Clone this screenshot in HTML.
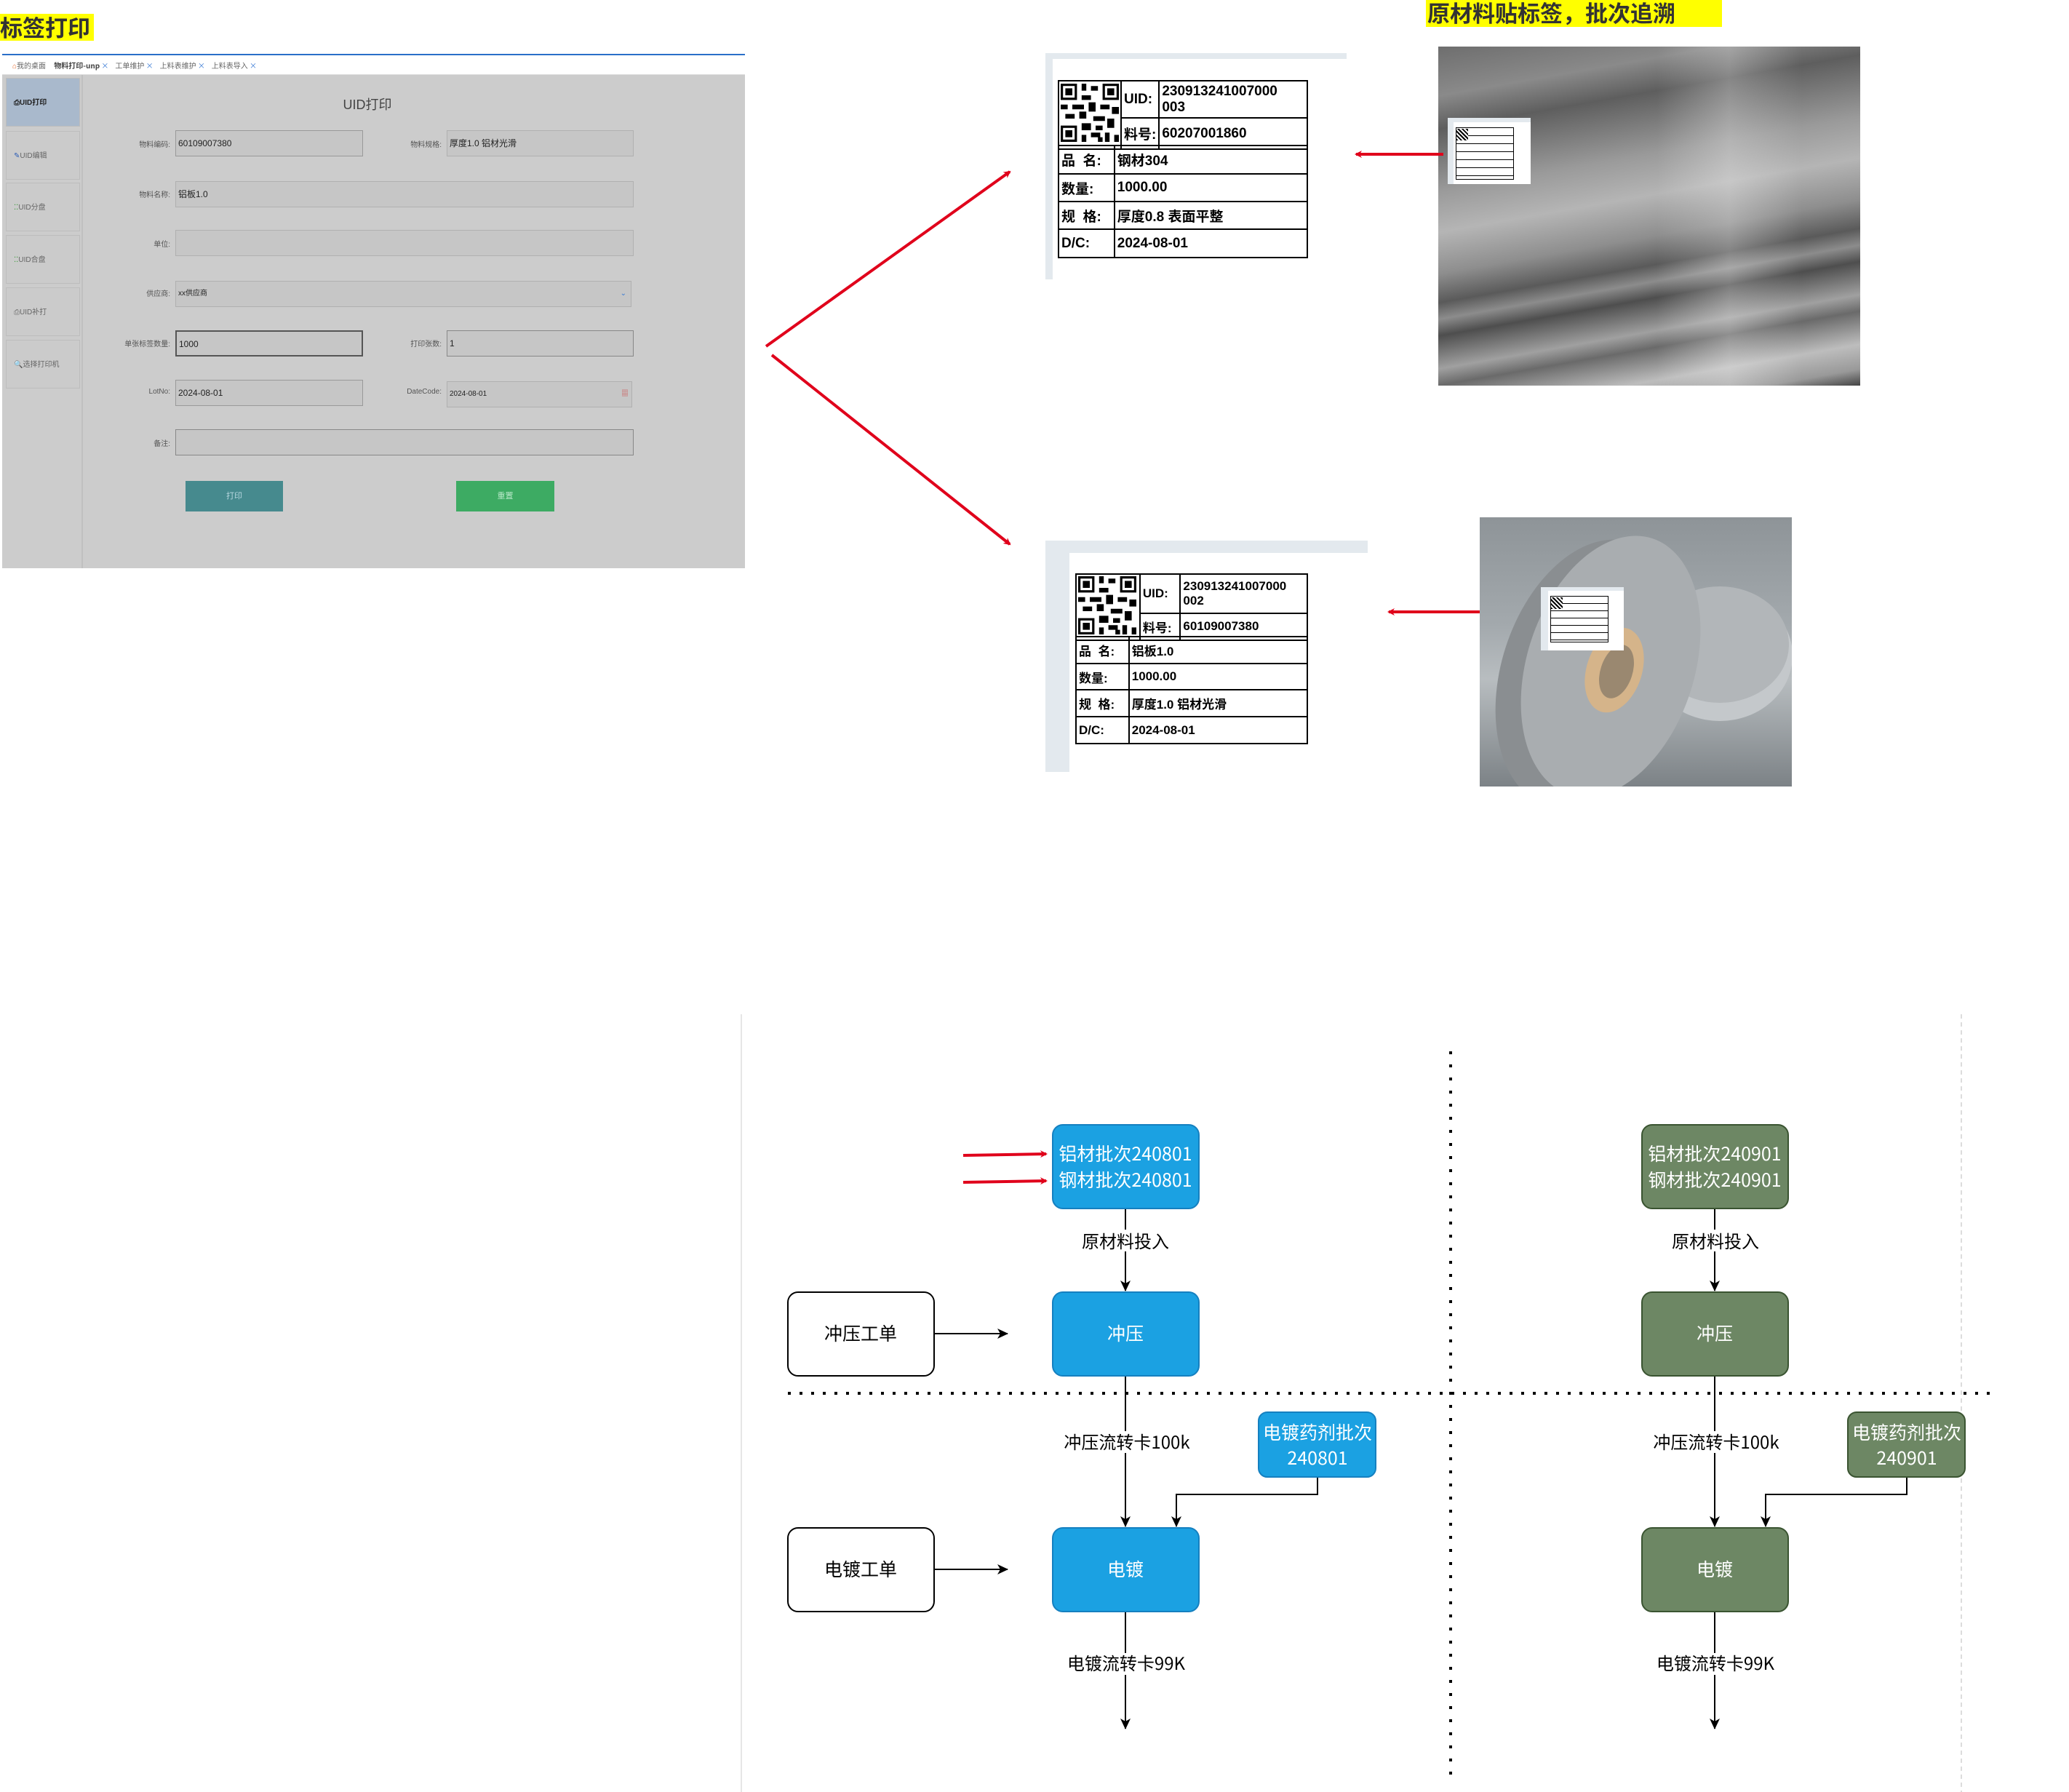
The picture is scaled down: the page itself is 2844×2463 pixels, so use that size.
<!DOCTYPE html>
<html><head><meta charset="utf-8">
<style>
*{margin:0;padding:0;box-sizing:border-box}
body{width:2844px;height:2463px;background:#fff;position:relative;overflow:hidden;font-family:"Liberation Sans","Noto Sans CJK SC",sans-serif}
.a{position:absolute}
.lbl{position:absolute;font-size:10px;color:#555;text-align:right;width:120px}
.inp{position:absolute;border:1px solid #b0b0b0;background:#c6c6c6;font-size:12px;color:#222;padding-left:3px;line-height:34px;height:36px}
.side{position:absolute;left:8px;width:102px;height:67px;border:1px solid #bdbdbd;background:#cbcbcb;font-size:10px;color:#666;line-height:67px;padding-left:10px}
table.t{position:absolute;border-collapse:collapse;font-family:"Liberation Sans","Noto Sans CJK SC",sans-serif;font-weight:bold;color:#000}
table.t td{border:2px solid #000;padding:0 3px;white-space:nowrap}
</style></head><body>

<div class="a" style="left:0;top:19px;width:129px;height:37px;background:#ffff00"></div>
<div class="a" style="left:0;top:15px;font-size:31px;font-weight:bold;color:#333;line-height:44px;font-family:'Noto Sans CJK SC',sans-serif">标签打印</div>

<div class="a" style="left:1960px;top:0;width:407px;height:37px;background:#ffff00"></div>
<div class="a" style="left:1962px;top:-5px;font-size:31px;font-weight:bold;color:#333;line-height:44px;font-family:'Noto Sans CJK SC',sans-serif">原材料贴标签，批次追溯</div>

<!-- screenshot -->
<div class="a" style="left:3px;top:74px;width:1021px;height:2px;background:#2a6fc9"></div>
<div class="a" style="left:3px;top:76px;width:1021px;height:27px;background:#fff;border-bottom:1px solid #ddd;font-size:10px;color:#666;line-height:27px;padding-left:14px;white-space:nowrap;font-family:'Noto Sans CJK SC',sans-serif">
<span style="color:#e86a2a">⌂</span>我的桌面 &nbsp;&nbsp;&nbsp; <b style="color:#444">物料打印-unp</b> <span style="color:#3a7bd5">×</span> &nbsp;&nbsp; 工单维护 <span style="color:#3a7bd5">×</span> &nbsp;&nbsp; 上料表维护 <span style="color:#3a7bd5">×</span> &nbsp;&nbsp; 上料表导入 <span style="color:#3a7bd5">×</span></div>
<div class="a" style="left:3px;top:103px;width:1021px;height:678px;background:#cccccc"></div>
<div class="a" style="left:112px;top:103px;width:2px;height:678px;background:#c0c0c0"></div>
<div class="side" style="top:107px;background:#a9b9cc;color:#222;font-weight:bold">⎙UID打印</div>
<div class="side" style="top:180px"><span style="color:#2b5db5">✎</span>UID编辑</div>
<div class="side" style="top:251px"><span style="color:#3a9a3a">⁚⁚</span>UID分盘</div>
<div class="side" style="top:323px"><span style="color:#3a9a3a">⁚⁚</span>UID合盘</div>
<div class="side" style="top:395px">⎙UID补打</div>
<div class="side" style="top:467px">🔍选择打印机</div>
<div class="a" style="left:400px;top:130px;width:210px;text-align:center;font-size:18px;color:#444">UID打印</div>

<div class="lbl" style="left:114px;top:190px">物料编码:</div>
<div class="inp" style="left:241px;top:179px;width:258px;border-color:#999">60109007380</div>
<div class="lbl" style="left:487px;top:190px">物料规格:</div>
<div class="inp" style="left:614px;top:179px;width:257px">厚度1.0 铝材光滑</div>
<div class="lbl" style="left:114px;top:259px">物料名称:</div>
<div class="inp" style="left:241px;top:249px;width:630px">铝板1.0</div>
<div class="lbl" style="left:114px;top:327px">单位:</div>
<div class="inp" style="left:241px;top:316px;width:630px"></div>
<div class="lbl" style="left:114px;top:395px">供应商:</div>
<div class="inp" style="left:241px;top:386px;width:627px;font-size:10px">xx供应商<span style="position:absolute;right:6px;color:#3a7bd5">⌄</span></div>
<div class="lbl" style="left:114px;top:464px">单张标签数量:</div>
<div class="inp" style="left:241px;top:454px;width:258px;border:2px solid #555">1000</div>
<div class="lbl" style="left:487px;top:464px">打印张数:</div>
<div class="inp" style="left:614px;top:454px;width:257px;border-color:#888">1</div>
<div class="lbl" style="left:114px;top:533px">LotNo:</div>
<div class="inp" style="left:241px;top:522px;width:258px;border-color:#999">2024-08-01</div>
<div class="lbl" style="left:487px;top:533px">DateCode:</div>
<div class="inp" style="left:614px;top:524px;width:255px;font-size:10px">2024-08-01<span style="position:absolute;right:4px;color:#c66">▦</span></div>
<div class="lbl" style="left:114px;top:601px">备注:</div>
<div class="inp" style="left:241px;top:590px;width:630px;border-color:#888"></div>
<div class="a" style="left:255px;top:661px;width:134px;height:42px;background:#468a8e;color:#b8d8e0;font-size:11px;text-align:center;line-height:42px">打印</div>
<div class="a" style="left:627px;top:661px;width:135px;height:42px;background:#3dab63;color:#b8e8c8;font-size:11px;text-align:center;line-height:42px">重置</div>

<!-- label panel 1 -->
<div class="a" style="left:1437px;top:73px;width:414px;height:8px;background:#e3e9ee"></div>
<div class="a" style="left:1437px;top:73px;width:10px;height:311px;background:#e3e9ee"></div>
<table class="t" style="left:1454px;top:110px;width:344px;font-size:19px">
<colgroup><col style="width:77px"><col style="width:47px"><col style="width:220px"></colgroup>
<tr style="height:47px"><td rowspan="2" style="padding:2px"><svg width="80" height="82" viewBox="0 0 25 25"><rect x="0" y="0" width="7" height="7" fill="#000"/><rect x="1" y="1" width="5" height="5" fill="#fff"/><rect x="2" y="2" width="3" height="3" fill="#000"/><rect x="18" y="0" width="7" height="7" fill="#000"/><rect x="19" y="1" width="5" height="5" fill="#fff"/><rect x="20" y="2" width="3" height="3" fill="#000"/><rect x="0" y="18" width="7" height="7" fill="#000"/><rect x="1" y="19" width="5" height="5" fill="#fff"/><rect x="2" y="20" width="3" height="3" fill="#000"/><path d="M9 0h2v3h-2zM13 1h3v2h-3zM9 5h4v2h-4zM0 9h3v2h-3zM5 9h5v2h-5zM12 8h3v4h-3zM17 9h4v2h-4zM22 10h3v3h-3zM2 13h4v2h-4zM8 12h3v3h-3zM14 14h5v2h-5zM20 15h3v4h-3zM9 17h4v3h-4zM15 18h3v2h-3zM9 22h2v3h-2zM13 21h4v2h-4zM19 21h2v4h-2zM23 22h2v3h-2zM16 23h2v2h-2z" fill="#000"/></svg></td><td>UID:</td><td style="line-height:22px">230913241007000<br>003</td></tr>
<tr style="height:39px"><td>料号:</td><td>60207001860</td></tr>
</table>
<table class="t" style="left:1454px;top:199px;width:344px;font-size:19px">
<colgroup><col style="width:77px"><col style="width:267px"></colgroup>
<tr style="height:39px"><td>品&nbsp; 名:</td><td>钢材304</td></tr>
<tr style="height:38px"><td>数量:</td><td>1000.00</td></tr>
<tr style="height:38px"><td>规&nbsp; 格:</td><td>厚度0.8 表面平整</td></tr>
<tr style="height:39px"><td>D/C:</td><td>2024-08-01</td></tr>
</table>

<!-- label panel 2 -->
<div class="a" style="left:1437px;top:743px;width:443px;height:17px;background:#e3e9ee"></div>
<div class="a" style="left:1437px;top:743px;width:33px;height:318px;background:#e3e9ee"></div>
<table class="t" style="left:1478px;top:788px;width:320px;font-size:17px">
<colgroup><col style="width:88px"><col style="width:56px"><col style="width:176px"></colgroup>
<tr style="height:52px"><td rowspan="2" style="padding:2px"><svg width="80" height="80" viewBox="0 0 25 25"><rect x="0" y="0" width="7" height="7" fill="#000"/><rect x="1" y="1" width="5" height="5" fill="#fff"/><rect x="2" y="2" width="3" height="3" fill="#000"/><rect x="18" y="0" width="7" height="7" fill="#000"/><rect x="19" y="1" width="5" height="5" fill="#fff"/><rect x="20" y="2" width="3" height="3" fill="#000"/><rect x="0" y="18" width="7" height="7" fill="#000"/><rect x="1" y="19" width="5" height="5" fill="#fff"/><rect x="2" y="20" width="3" height="3" fill="#000"/><path d="M9 0h2v3h-2zM13 1h3v2h-3zM9 5h4v2h-4zM0 9h3v2h-3zM5 9h5v2h-5zM12 8h3v4h-3zM17 9h4v2h-4zM22 10h3v3h-3zM2 13h4v2h-4zM8 12h3v3h-3zM14 14h5v2h-5zM20 15h3v4h-3zM9 17h4v3h-4zM15 18h3v2h-3zM9 22h2v3h-2zM13 21h4v2h-4zM19 21h2v4h-2zM23 22h2v3h-2zM16 23h2v2h-2z" fill="#000"/></svg></td><td>UID:</td><td style="line-height:20px">230913241007000<br>002</td></tr>
<tr style="height:36px"><td>料号:</td><td>60109007380</td></tr>
</table>
<table class="t" style="left:1478px;top:874px;width:320px;font-size:17px">
<colgroup><col style="width:73px"><col style="width:247px"></colgroup>
<tr style="height:37px"><td>品&nbsp; 名:</td><td>铝板1.0</td></tr>
<tr style="height:36px"><td>数量:</td><td>1000.00</td></tr>
<tr style="height:37px"><td>规&nbsp; 格:</td><td>厚度1.0 铝材光滑</td></tr>
<tr style="height:37px"><td>D/C:</td><td>2024-08-01</td></tr>
</table>

<!-- photo 1 -->
<div class="a" style="left:1977px;top:64px;width:580px;height:466px;overflow:hidden;background:linear-gradient(170deg,#6e6e6e 0%,#8a8a8a 12%,#5e5e5e 20%,#9a9a9a 35%,#b5b5b5 45%,#8e8e8e 55%,#5a5a5a 62%,#8c8c8c 66%,#4e4e4e 70%,#a0a0a0 78%,#6a6a6a 82%,#bdbdbd 90%,#999 96%,#444 100%)">
<div class="a" style="left:300px;top:0;width:200px;height:466px;background:linear-gradient(90deg,rgba(255,255,255,0),rgba(255,255,255,.25),rgba(255,255,255,0))"></div>
<div class="a" style="left:13px;top:98px;width:114px;height:91px;background:#fff;border-left:8px solid #e3e9ee;border-top:6px solid #e3e9ee">
<div class="a" style="left:3px;top:7px;width:80px;height:72px;border:1px solid #000;background:repeating-linear-gradient(180deg,#fff 0,#fff 10px,#000 10px,#000 11px)"></div>
<div class="a" style="left:4px;top:9px;width:16px;height:16px;background:repeating-linear-gradient(45deg,#000 0 2px,#fff 2px 4px)"></div>
</div>
</div>

<!-- photo 2 -->
<div class="a" style="left:2034px;top:711px;width:429px;height:370px;overflow:hidden;background:linear-gradient(180deg,#8e9498 0%,#a3a9ad 40%,#b8bdc0 60%,#7c8286 100%)">
<svg class="a" style="left:0;top:0" width="429" height="370">
<ellipse cx="330" cy="190" rx="100" ry="90" fill="#c4c8cb"/>
<ellipse cx="330" cy="175" rx="95" ry="80" fill="#b2b6b9"/>
<ellipse cx="150" cy="215" rx="120" ry="190" fill="#8a8e91" transform="rotate(18 150 215)"/>
<ellipse cx="180" cy="205" rx="115" ry="185" fill="#a9adb0" transform="rotate(18 180 205)"/>
<ellipse cx="185" cy="210" rx="38" ry="60" fill="#d5b48a" transform="rotate(18 185 210)"/>
<ellipse cx="188" cy="212" rx="22" ry="38" fill="#9a8870" transform="rotate(18 188 212)"/>
</svg>
<div class="a" style="left:84px;top:96px;width:114px;height:87px;background:#fff;border-left:10px solid #e3e9ee;border-top:5px solid #e3e9ee">
<div class="a" style="left:3px;top:7px;width:80px;height:64px;border:1px solid #000;background:repeating-linear-gradient(180deg,#fff 0,#fff 9px,#000 9px,#000 10px)"></div>
<div class="a" style="left:4px;top:9px;width:16px;height:16px;background:repeating-linear-gradient(45deg,#000 0 2px,#fff 2px 4px)"></div>
</div>
</div>

<svg class="a" style="left:0;top:0" width="2844" height="2463">
<defs>
<marker id="rh" markerWidth="10" markerHeight="10" refX="8" refY="5" orient="auto" markerUnits="userSpaceOnUse"><path d="M0,0 L10,5 L0,10 L3,5z" fill="#e0001b"/></marker>
<marker id="bh" markerWidth="16" markerHeight="16" refX="14" refY="8" orient="auto" markerUnits="userSpaceOnUse"><path d="M0,1 L15,8 L0,15 L4,8z" fill="#000"/></marker>
</defs>
<g stroke="#e0001b" stroke-width="4" fill="none">
<line x1="1053" y1="476" x2="1388" y2="236" marker-end="url(#rh)"/>
<line x1="1061" y1="488" x2="1388" y2="748" marker-end="url(#rh)"/>
<line x1="1984" y1="212" x2="1864" y2="212" marker-end="url(#rh)"/>
<line x1="2034" y1="841" x2="1909" y2="841" marker-end="url(#rh)"/>
<line x1="1324" y1="1588" x2="1438" y2="1586" marker-end="url(#rh)"/>
<line x1="1324" y1="1625" x2="1438" y2="1623" marker-end="url(#rh)"/>
</g>
<line x1="1019" y1="1394" x2="1019" y2="2463" stroke="#e6e6e6" stroke-width="2"/>
<line x1="2696" y1="1394" x2="2696" y2="2463" stroke="#ddd" stroke-width="2" stroke-dasharray="6 5"/>
<line x1="1994" y1="1445" x2="1994" y2="2447" stroke="#000" stroke-width="4" stroke-dasharray="4 14"/>
<line x1="1083" y1="1915" x2="2740" y2="1915" stroke="#000" stroke-width="4" stroke-dasharray="4 12"/>
<g stroke="#000" stroke-width="2" fill="none">
<line x1="1547" y1="1661" x2="1547" y2="1774" marker-end="url(#bh)"/>
<line x1="1547" y1="1891" x2="1547" y2="2098" marker-end="url(#bh)"/>
<line x1="1547" y1="2215" x2="1547" y2="2376" marker-end="url(#bh)"/>
<polyline points="1811,2030 1811,2054 1617,2054 1617,2098" marker-end="url(#bh)"/>
<line x1="1284" y1="1833" x2="1385" y2="1833" marker-end="url(#bh)"/>
<line x1="1284" y1="2157" x2="1385" y2="2157" marker-end="url(#bh)"/>
<line x1="2357" y1="1661" x2="2357" y2="1774" marker-end="url(#bh)"/>
<line x1="2357" y1="1891" x2="2357" y2="2098" marker-end="url(#bh)"/>
<line x1="2357" y1="2215" x2="2357" y2="2376" marker-end="url(#bh)"/>
<polyline points="2621,2030 2621,2054 2427,2054 2427,2098" marker-end="url(#bh)"/>
</g>
<g font-family="Noto Sans CJK SC, sans-serif" font-size="25">
<rect x="1447" y="1546" width="201" height="115" rx="14" fill="#1ba1e2" stroke="#1580c0" stroke-width="2"/>
<rect x="1447" y="1776" width="201" height="115" rx="14" fill="#1ba1e2" stroke="#1580c0" stroke-width="2"/>
<rect x="1447" y="2100" width="201" height="115" rx="14" fill="#1ba1e2" stroke="#1580c0" stroke-width="2"/>
<rect x="1730" y="1941" width="161" height="89" rx="12" fill="#1ba1e2" stroke="#1580c0" stroke-width="2"/>
<rect x="2257" y="1546" width="201" height="115" rx="14" fill="#6d8764" stroke="#3a5431" stroke-width="2"/>
<rect x="2257" y="1776" width="201" height="115" rx="14" fill="#6d8764" stroke="#3a5431" stroke-width="2"/>
<rect x="2257" y="2100" width="201" height="115" rx="14" fill="#6d8764" stroke="#3a5431" stroke-width="2"/>
<rect x="2540" y="1941" width="161" height="89" rx="12" fill="#6d8764" stroke="#3a5431" stroke-width="2"/>
<rect x="1083" y="1776" width="201" height="115" rx="14" fill="#fff" stroke="#000" stroke-width="2"/>
<rect x="1083" y="2100" width="201" height="115" rx="14" fill="#fff" stroke="#000" stroke-width="2"/>
<g fill="#fff" text-anchor="middle">
<text x="1547" y="1595">铝材批次240801</text><text x="1547" y="1631">钢材批次240801</text>
<text x="1547" y="1842">冲压</text><text x="1547" y="2166">电镀</text>
<text x="1811" y="1978">电镀药剂批次</text><text x="1811" y="2013">240801</text>
<text x="2357" y="1595">铝材批次240901</text><text x="2357" y="1631">钢材批次240901</text>
<text x="2357" y="1842">冲压</text><text x="2357" y="2166">电镀</text>
<text x="2621" y="1978">电镀药剂批次</text><text x="2621" y="2013">240901</text>
</g>
<g fill="#000" text-anchor="middle">
<text x="1183" y="1842">冲压工单</text><text x="1183" y="2166">电镀工单</text>
</g>
<g text-anchor="middle" font-size="24">
<rect x="1490" y="1690" width="114" height="30" fill="#fff"/><text x="1547" y="1715">原材料投入</text>
<rect x="1468" y="1967" width="160" height="30" fill="#fff"/><text x="1549" y="1991">冲压流转卡100k</text>
<rect x="1472" y="2272" width="150" height="30" fill="#fff"/><text x="1548" y="2295">电镀流转卡99K</text>
<rect x="2300" y="1690" width="114" height="30" fill="#fff"/><text x="2358" y="1715">原材料投入</text>
<rect x="2278" y="1967" width="160" height="30" fill="#fff"/><text x="2359" y="1991">冲压流转卡100k</text>
<rect x="2282" y="2272" width="150" height="30" fill="#fff"/><text x="2358" y="2295">电镀流转卡99K</text>
</g>
</g>
</svg>
</body></html>
